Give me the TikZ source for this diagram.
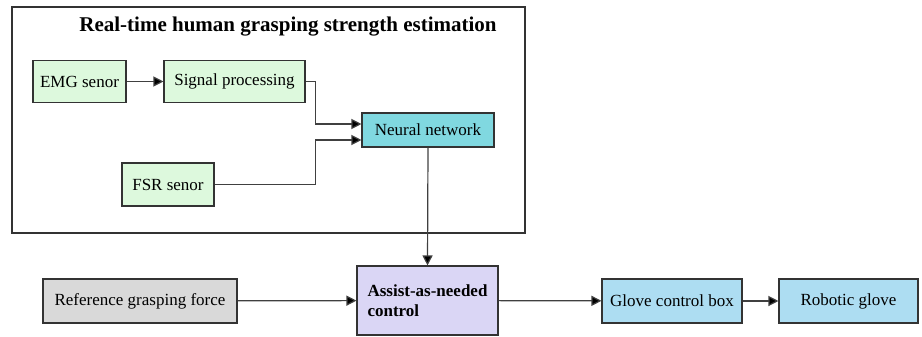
\documentclass[tikz,border=0pt]{standalone}
\usepackage{fontspec}
\setmainfont{Liberation Serif}
\usetikzlibrary{arrows.meta}
\definecolor{sensorgreen}{HTML}{DDF9DD}
\definecolor{netcyan}{HTML}{80D8E0}
\definecolor{ctrlviolet}{HTML}{DAD6F5}
\definecolor{refgray}{HTML}{D9D9D9}
\definecolor{gloveblue}{HTML}{ADDDF2}
\begin{document}
\begin{tikzpicture}[x=1pt, y=-1pt,
		block/.style={draw=black!80, line width=1.1pt, inner sep=0pt, minimum height=43pt,
			font=\rmfamily\fontsize{17}{20}\selectfont},
		flow/.style={draw=black!75, line width=1.2pt, -{Triangle[length=10pt, width=10pt, fill=black]}}]
		\useasboundingbox (0,0) rectangle (922,337);
		% frame of the estimation part
		\draw[line width=1.1pt, black!80] (12,7) rectangle (525,233);
		\node[font=\rmfamily\bfseries\fontsize{21}{24}\selectfont] (title) at (288,27) {Real-time human grasping strength estimation};
		% blocks inside the frame
		\node[block, fill=sensorgreen, minimum width=93pt, minimum height=42pt] (emg) at (79.5,81.5) {EMG senor};
		\node[block, fill=sensorgreen, minimum width=141pt, minimum height=42pt] (signal) at (234.5,81.5) {Signal processing};
		\node[block, fill=netcyan, minimum width=132pt, minimum height=34pt] (nn) at (428,130) {Neural network};
		\node[block, fill=sensorgreen, minimum width=92pt] (fsr) at (168,184.5) {FSR senor};
		% bottom row
		\node[block, fill=refgray, minimum width=194pt, minimum height=44pt] (ref) at (140,301) {Reference grasping force};
		\node[block, fill=ctrlviolet, minimum width=141pt, minimum height=69pt, align=left,
			font=\rmfamily\bfseries\fontsize{17}{20}\selectfont] (assist) at (427.5,300.5) {Assist-as-needed\\control};
		\node[block, fill=gloveblue, minimum width=140pt, minimum height=44pt] (glovebox) at (672,301) {Glove control box};
		\node[block, fill=gloveblue, minimum width=139pt, minimum height=44pt] (glove) at (848.5,301) {Robotic glove};
		% connectors
		\draw[flow] (emg) -- (signal);
		\draw[flow] (signal.east) -- ++(10,0) |- ([yshift=6pt]nn.west);
		\draw[flow] (fsr.east) -- ++(101,0) |- ([yshift=-10pt]nn.west);
		\draw[flow] (nn.south) -- (assist.north);
		\draw[flow] (ref) -- (assist);
		\draw[flow] (assist) -- (glovebox);
		\draw[flow] (glovebox) -- (glove);
	\end{tikzpicture}
\end{document}
